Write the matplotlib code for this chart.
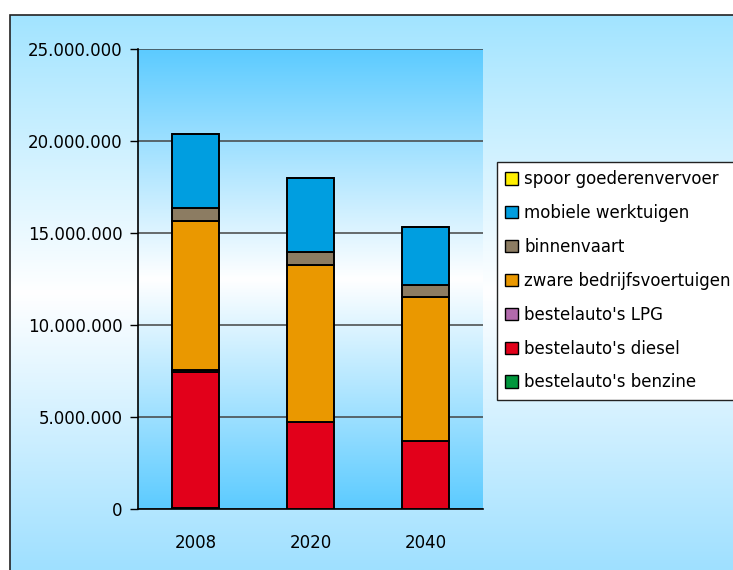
import numpy as np
import matplotlib.pyplot as plt
from matplotlib.colors import LinearSegmentedColormap
from matplotlib.patches import Rectangle
from matplotlib.ticker import FuncFormatter

# Jaartallen en emissies per categorie
years = ['2008', '2020', '2040']
benzine = [60000, 15000, 10000]
diesel = [7390000, 4700000, 3690000]
lpg = [80000, 10000, 5000]
zware = [8120000, 8515000, 7795000]
binnenvaart = [710000, 730000, 660000]
werktuigen = [4020000, 4020000, 3170000]
spoor = [10000, 10000, 10000]

series = [
    ("bestelauto's benzine", benzine, '#00963c'),
    ("bestelauto's diesel", diesel, '#e2001a'),
    ("bestelauto's LPG", lpg, '#b26aac'),
    ('zware bedrijfsvoertuigen', zware, '#ea9800'),
    ('binnenvaart', binnenvaart, '#8c7c62'),
    ('mobiele werktuigen', werktuigen, '#009ee0'),
    ('spoor goederenvervoer', spoor, '#ffef00'),
]

plt.rcParams['font.family'] = 'DejaVu Sans'
fig = plt.figure(figsize=(7.33, 5.70), dpi=100)

# achtergrond van de figuur met verloop
bg = fig.add_axes([0, 0, 1, 1], zorder=-10)
bg.set_xlim(0, 1)
bg.set_ylim(0, 1)
bg.axis('off')
outer_cmap = LinearSegmentedColormap.from_list(
    'outer', [(0, '#9fe0ff'), (0.5, '#ffffff'), (1, '#a2e4ff')])
bg.imshow(np.linspace(0, 1, 256).reshape(-1, 1), cmap=outer_cmap,
          extent=[10 / 733, 1.05, 0, 1 - 15 / 570], origin='lower', aspect='auto')
bg.add_patch(Rectangle((10 / 733, -0.01), 1, 1 - 15 / 570 + 0.01,
                       fill=False, edgecolor='#222222', lw=1.2))

ax = fig.add_axes([138 / 733, 61 / 570, 345 / 733, 460 / 570])
ax.set_xlim(-0.5, 2.5)
ax.set_ylim(0, 25000000)
plot_cmap = LinearSegmentedColormap.from_list(
    'plot', [(0, '#5ccbff'), (0.5, '#ffffff'), (1, '#5ccbff')])
ax.imshow(np.linspace(0, 1, 256).reshape(-1, 1), cmap=plot_cmap,
          extent=[-0.5, 2.5, 0, 25000000], origin='lower', aspect='auto', zorder=0)

x = np.arange(len(years))
bottom = np.zeros(len(years))
handles = []
for name, vals, color in series:
    b = ax.bar(x, vals, 0.41, bottom=bottom, color=color, edgecolor='black',
               linewidth=1.4, label=name, zorder=3)
    handles.append(b)
    bottom += np.array(vals)

ax.set_yticks(np.arange(0, 25000001, 5000000))
ax.yaxis.set_major_formatter(FuncFormatter(lambda v, p: f'{int(v):,}'.replace(',', '.')))
ax.grid(axis='y', color='#444444', linewidth=1.1, zorder=1)
ax.set_xticks(x)
ax.set_xticklabels(years)
ax.tick_params(axis='y', length=6, width=1, labelsize=12, pad=5, colors='black')
ax.tick_params(axis='x', length=0, labelsize=12, pad=18)
for s in ['top', 'right']:
    ax.spines[s].set_visible(False)
ax.spines['left'].set_linewidth(1.2)
ax.spines['bottom'].set_linewidth(1.2)

leg = fig.legend(handles[::-1], [s[0] for s in series][::-1],
                 loc='upper left', bbox_to_anchor=(497 / 733, 1 - 162 / 570),
                 frameon=True, fancybox=False, fontsize=12, labelspacing=0.95,
                 handlelength=0.75, handleheight=0.75, handletextpad=0.4,
                 borderpad=0.5, borderaxespad=0)
leg.get_frame().set_edgecolor('#222222')
leg.get_frame().set_linewidth(1.0)
leg.get_frame().set_alpha(1)
for h in leg.legend_handles:
    h.set_linewidth(1.0)

fig.savefig('out.png', dpi=100)
